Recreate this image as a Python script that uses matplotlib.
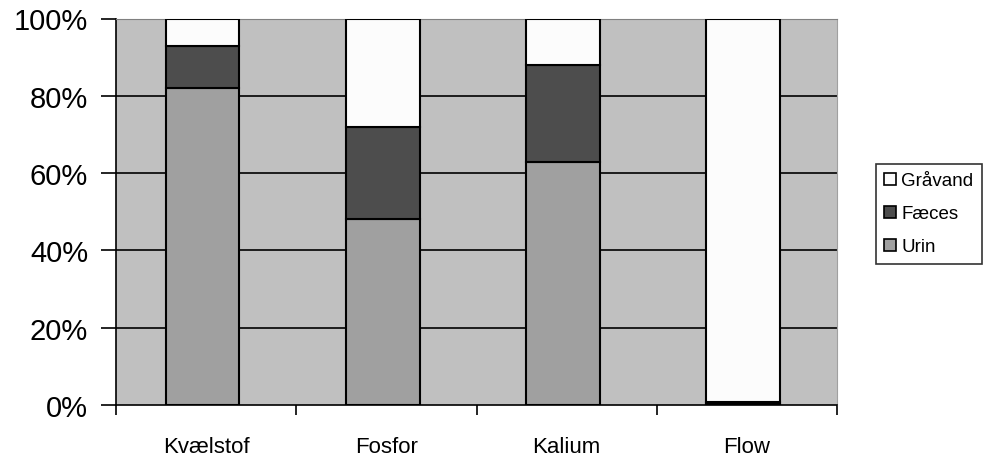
import matplotlib
matplotlib.use("Agg")
import matplotlib.pyplot as plt
import numpy as np

plt.rcParams['font.family'] = ['Liberation Sans', 'DejaVu Sans']

categories = ["Kvælstof", "Fosfor", "Kalium", "Flow"]
urin = [82, 48, 63, 0.2]
faeces = [11, 24, 25, 0.5]
graavand = [7, 28, 12, 99.3]
series_names = ["Urin", "Fæces", "Gråvand"]
colors = ["#A0A0A0", "#4D4D4D", "#FCFCFC"]
yticks = [0, 20, 40, 60, 80, 100]
ytick_labels = ["0%", "20%", "40%", "60%", "80%", "100%"]

fig = plt.figure(figsize=(9.83, 4.56), dpi=100)
ax = fig.add_axes([116/983, 50/456, (837-116)/983, (406-19.5)/456])
ax.set_facecolor("#C0C0C0")

x = np.arange(len(categories))
w = 0.41
bottom = np.zeros(len(categories))
handles = []
for vals, name, c in zip([urin, faeces, graavand], series_names, colors):
    b = ax.bar(x - 0.02, vals, w, bottom=bottom, color=c, edgecolor="black",
               linewidth=1.5, label=name, zorder=3)
    handles.append(b)
    bottom += np.array(vals)

ax.set_xlim(-0.5, len(categories) - 0.5)
ax.set_ylim(0, 100)
ax.set_yticks(yticks)
ax.set_yticklabels(ytick_labels, fontsize=21)
for yv in yticks[1:-1]:
    ax.axhline(yv, color="black", linewidth=1.2, zorder=1)

ax.set_xticks(x)
ax.set_xticklabels(categories, fontsize=16)
ax.tick_params(axis='x', which='major', length=0, pad=22)
ax.set_xticks(np.arange(-0.5, len(categories)), minor=True)
ax.tick_params(axis='x', which='minor', length=7, width=1.2, direction='out')
ax.tick_params(axis='y', length=11, width=1.2, direction='out', pad=9)

ax.spines['left'].set_color('black')
ax.spines['left'].set_linewidth(1.2)
ax.spines['bottom'].set_color('black')
ax.spines['bottom'].set_linewidth(1.2)
ax.spines['top'].set_color('#808080')
ax.spines['right'].set_color('#A0A0A0')

leg = fig.legend(handles[::-1], series_names[::-1], loc='upper left',
                 bbox_to_anchor=(876/983, 1 - 165/456), fontsize=13.5,
                 frameon=True, fancybox=False, edgecolor='black',
                 handlelength=0.6, handleheight=0.6, handletextpad=0.3,
                 borderpad=0.45, labelspacing=0.85, borderaxespad=0)
leg.get_frame().set_linewidth(1.2)
for h in leg.legend_handles:
    h.set_linewidth(1.2)

fig.savefig("out.png", dpi=100)
